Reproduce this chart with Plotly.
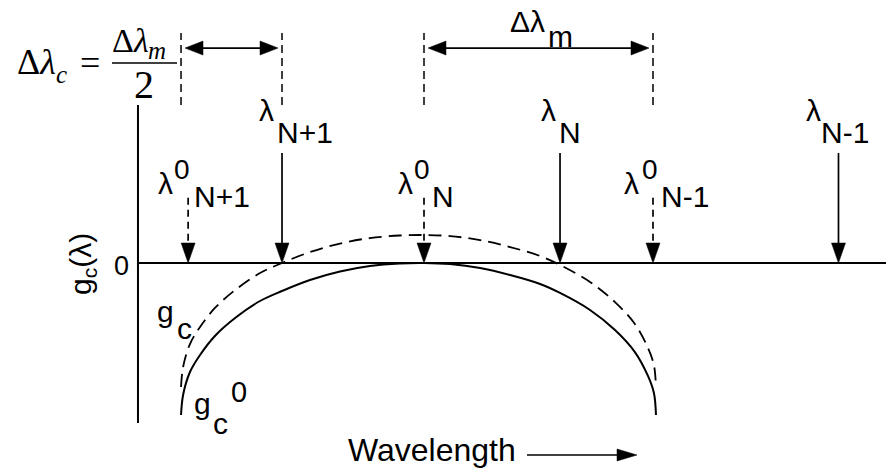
import plotly.graph_objects as go

# ---------------- data ----------------
# wavelength axis: lambda0_N = 0, delta lambda_m = 1
shifted_labels = ["N+1", "N", "N-1"]          # solid arrows (lambda_N ...)
shifted_lambda = [-0.62, 0.594, 1.81]
unshifted_labels = ["N+1", "N", "N-1"]        # dashed arrows (lambda^0_N ...)
unshifted_lambda = [-1.03, 0.0, 1.0]

delta_m_guides = [0.0, 1.0]                   # delta lambda_m span
delta_c_guides = [-1.061, -0.62]              # delta lambda_c span

curve_x = [-1.061, -1.052, -1.022, -0.978, -0.913, -0.825, -0.716, -0.620, -0.498,
           -0.367, -0.236, -0.105, 0.0, 0.114, 0.245, 0.376, 0.507, 0.594, 0.725,
           0.834, 0.921, 0.978, 1.004, 1.013]
gc0_y = [-1.0, -0.868, -0.717, -0.605, -0.480, -0.362, -0.250, -0.184, -0.112,
         -0.056, -0.020, -0.003, 0.0, -0.007, -0.033, -0.079, -0.138, -0.197, -0.309,
         -0.441, -0.586, -0.743, -0.855, -1.0]
gc_y = [-0.816, -0.684, -0.533, -0.421, -0.296, -0.178, -0.066, 0.0, 0.072,
        0.128, 0.164, 0.181, 0.184, 0.177, 0.151, 0.105, 0.046, -0.013, -0.125,
        -0.257, -0.402, -0.559, -0.671, -0.816]

axis_x = -1.249
axis_y_span = [-1.053, 1.039]
solid_arrow_top = 0.724
dashed_arrow_top = 0.43
guide_span = [1.039, 1.513]
span_arrow_y = 1.414

# ---------------- layout helpers ----------------
W, H = 886, 471
X0, XS = 424.0, 229.0     # pixel of x=0, pixels per unit
Y0, YS = 263.0, 152.0     # pixel of y=0, pixels per unit
SANS = "Liberation Sans, Arial, sans-serif"
SERIF = "Liberation Serif, Times New Roman, serif"

def to_px(x, y):
    return X0 + XS * x, Y0 - YS * y

def to_data(px, py):
    return (px - X0) / XS, (Y0 - py) / YS

shapes = []
annotations = []

def line(x0, y0, x1, y1, width=2.0, dash=None):
    d = dict(type="line", xref="x", yref="y", x0=x0, y0=y0, x1=x1, y1=y1,
             line=dict(color="black", width=width))
    if dash:
        d["line"]["dash"] = dash
    shapes.append(d)

def head(tx, ty, ux, uy, length=20.0, half=6.5):
    """filled triangular arrow head; tip at data (tx,ty), direction (ux,uy) in px space"""
    px, py = to_px(tx, ty)
    bx, by = px - ux * length, py - uy * length
    nx, ny = -uy, ux
    pts = [(px, py), (bx + nx * half, by + ny * half), (bx - nx * half, by - ny * half)]
    dpts = [to_data(a, b) for a, b in pts]
    path = "M{},{} L{},{} L{},{} Z".format(*[v for p in dpts for v in p])
    shapes.append(dict(type="path", xref="x", yref="y", path=path,
                       fillcolor="black", line=dict(color="black", width=0.5)))

def txt(xp, yp, s, size, family=SANS, xanchor="center", yanchor="middle", angle=0):
    annotations.append(dict(x=xp / W, y=1 - yp / H, xref="paper", yref="paper", text=s,
                            showarrow=False, textangle=angle,
                            font=dict(size=size, family=family, color="black"),
                            xanchor=xanchor, yanchor=yanchor, borderpad=0))

# axes
line(axis_x, axis_y_span[0], axis_x, axis_y_span[1], width=2)
line(axis_x, 0, 2.2, 0, width=2)

# solid arrows (shifted wavelengths)
for lam in shifted_lambda:
    line(lam, solid_arrow_top, lam, 0.06, width=1.7)
    head(lam, 0, 0, 1, length=20, half=7)

# dashed arrows (unshifted wavelengths)
for lam in unshifted_lambda:
    line(lam, dashed_arrow_top, lam, 0.06, width=1.7, dash="7px,5px")
    head(lam, 0, 0, 1, length=20, half=7)

# guide lines at top
for gx in delta_c_guides + delta_m_guides:
    line(gx, guide_span[0], gx, guide_span[1], width=1.5, dash="8px,5px")

# double-headed span arrows
gap = 4.0 / XS
for a, b in (delta_c_guides, delta_m_guides):
    line(a + gap + 0.04, span_arrow_y, b - gap - 0.04, span_arrow_y, width=1.7)
    head(a + gap, span_arrow_y, -1, 0, length=18, half=7)
    head(b - gap, span_arrow_y, 1, 0, length=18, half=7)

# wavelength arrow
wx0, wy = to_data(527, 455)
wx1, _ = to_data(637, 455)
line(wx0, wy, wx1 - 0.05, wy, width=1.7)
head(wx1, wy, 1, 0, length=20, half=6)

# fraction bar
fb0, fby = to_data(112, 63)
fb1, _ = to_data(177, 63)
line(fb0, fby, fb1, fby, width=1.5)

fig = go.Figure()
fig.add_trace(go.Scatter(x=curve_x, y=gc_y, mode="lines",
                         line=dict(color="black", width=1.8, dash="13px,7px", shape="spline"),
                         hoverinfo="skip", showlegend=False))
fig.add_trace(go.Scatter(x=curve_x, y=gc0_y, mode="lines",
                         line=dict(color="black", width=2, shape="spline"),
                         hoverinfo="skip", showlegend=False))

# ---------------- text ----------------
LAM = 30
SUB = 30
# shifted labels
txt(266, 111, "λ", LAM)
txt(276, 133, shifted_labels[0], SUB, xanchor="left")
txt(548, 111, "λ", LAM)
txt(558, 133, shifted_labels[1], SUB, xanchor="left")
txt(813, 111, "λ", LAM)
txt(820, 133, shifted_labels[2], SUB, xanchor="left")
# unshifted labels
for lx, zx, sx, lab in ((165, 182, 193, unshifted_labels[0]),
                        (405, 422, 431, unshifted_labels[1]),
                        (631, 650, 660, unshifted_labels[2])):
    txt(lx, 183, "λ", LAM)
    txt(zx, 170, "0", 28)
    txt(sx, 196, lab, SUB, xanchor="left")

# g_c labels
txt(165, 311, "g", 30)
txt(184, 328, "c", 30)
txt(202, 403, "g", 30)
txt(220, 423, "c", 30)
txt(239, 392, "0", 29)

# y-axis label and zero
txt(121, 266, "0", 27)
txt(82, 264, "g<sub>c</sub>(λ)", 30, angle=-90)

# delta lambda_m label
txt(527, 22, "Δλ", 30)
txt(547, 37, "m", 30, xanchor="left")

# formula
txt(16, 62, "Δ<i>λ</i>", 36, family=SERIF, xanchor="left")
txt(55, 75, "<i>c</i>", 25, family=SERIF, xanchor="left")
txt(90, 63, "=", 36, family=SERIF)
txt(111, 41, "Δ<i>λ</i>", 34, family=SERIF, xanchor="left")
txt(147, 51, "<i>m</i>", 25, family=SERIF, xanchor="left")
txt(144, 85, "2", 40, family=SERIF)

# wavelength
txt(347, 450, "Wavelength", 32, xanchor="left")

fig.update_layout(
    width=W, height=H,
    margin=dict(l=0, r=0, t=0, b=0),
    paper_bgcolor="white", plot_bgcolor="white",
    xaxis=dict(range=[(0 - X0) / XS, (W - X0) / XS], visible=False, fixedrange=True),
    yaxis=dict(range=[(Y0 - H) / YS, Y0 / YS], visible=False, fixedrange=True),
    shapes=shapes, annotations=annotations, showlegend=False,
)
fig.write_html("out.html", config={"displayModeBar": False},
               post_script="document.body.style.margin='0px';document.body.style.overflow='hidden';")
